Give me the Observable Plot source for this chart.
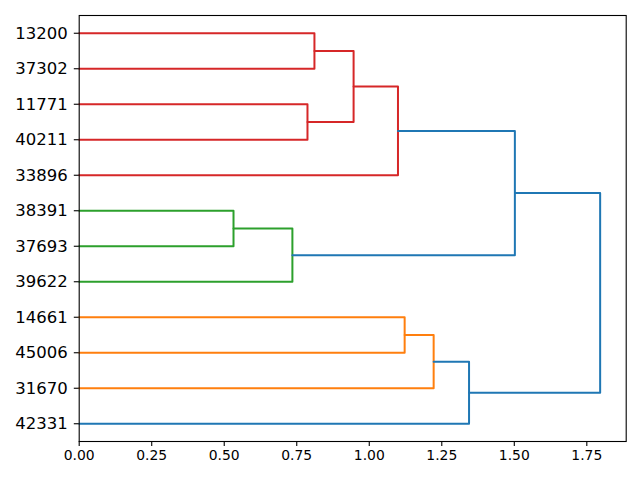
<!DOCTYPE html>
<html>
<head>
<meta charset="utf-8">
<script src="https://cdn.jsdelivr.net/npm/d3@7"></script>
<script src="https://cdn.jsdelivr.net/npm/@observablehq/plot@0.6"></script>
<style>
  html, body { margin: 0; padding: 0; background: #fff; }
  #chart svg { display: block; }
</style>
</head>
<body>
<div id="chart"></div>
<script>
// Leaf labels, listed top to bottom
const leafLabels = ["13200","37302","11771","40211","33896","38391","37693","39622","14661","45006","31670","42331"];
// Merges (scipy-like linkage): node ids 0..11 are leaves, 12+ are merges in order
const mergeLeft   = [0, 2, 12, 14, 5, 16, 15, 8, 19, 20, 18];
const mergeRight  = [1, 3, 13, 4, 6, 7, 17, 9, 10, 11, 21];
const mergeHeight = [0.811, 0.787, 0.946, 1.099, 0.532, 0.735, 1.502, 1.122, 1.222, 1.344, 1.796];
const mergeColor  = ["#d62728","#d62728","#d62728","#d62728","#2ca02c","#2ca02c","#1f77b4","#ff7f0e","#ff7f0e","#1f77b4","#1f77b4"];
const xTicks = [0, 0.25, 0.5, 0.75, 1.0, 1.25, 1.5, 1.75];

const n = leafLabels.length;
const leafPos = leafLabels.map((_, i) => 10 * (n - 1 - i) + 5);
const nodeY = leafPos.slice();
const nodeX = leafPos.map(() => 0);
const segs = [];
mergeLeft.forEach((a, k) => {
  const b = mergeRight[k], h = mergeHeight[k], c = mergeColor[k];
  const ya = nodeY[a], yb = nodeY[b];
  const pts = [[nodeX[a], ya], [h, ya], [h, yb], [nodeX[b], yb]];
  pts.forEach(([x, y]) => segs.push({id: k, x, y, c}));
  nodeY.push((ya + yb) / 2);
  nodeX.push(h);
});
const xMax = d3.max(mergeHeight) * 1.05;

const plot = Plot.plot({
  width: 640,
  height: 480,
  marginLeft: 78.7,
  marginRight: 14.3,
  marginTop: 15,
  marginBottom: 39,
  style: {fontFamily: "DejaVu Sans", color: "black", background: "white"},
  x: {domain: [0, xMax]},
  y: {domain: [0, 10 * n]},
  marks: [
    Plot.line(segs, {x: "x", y: "y", z: "id", stroke: "c", strokeWidth: 2, curve: "linear"}),
    Plot.frame({stroke: "black", strokeWidth: 1.1}),
    Plot.axisX({ticks: xTicks, tickFormat: d3.format(".2f"), tickSize: 4.9, tickPadding: 4, fontSize: 13.9, label: null, strokeWidth: 1.1}),
    Plot.axisY({ticks: leafPos, tickFormat: (d) => leafLabels[n - 1 - (d - 5) / 10], tickSize: 4.9, tickPadding: 6.5, fontSize: 16.5, label: null, strokeWidth: 1.1})
  ]
});
document.getElementById("chart").appendChild(plot);
</script>
</body>
</html>
